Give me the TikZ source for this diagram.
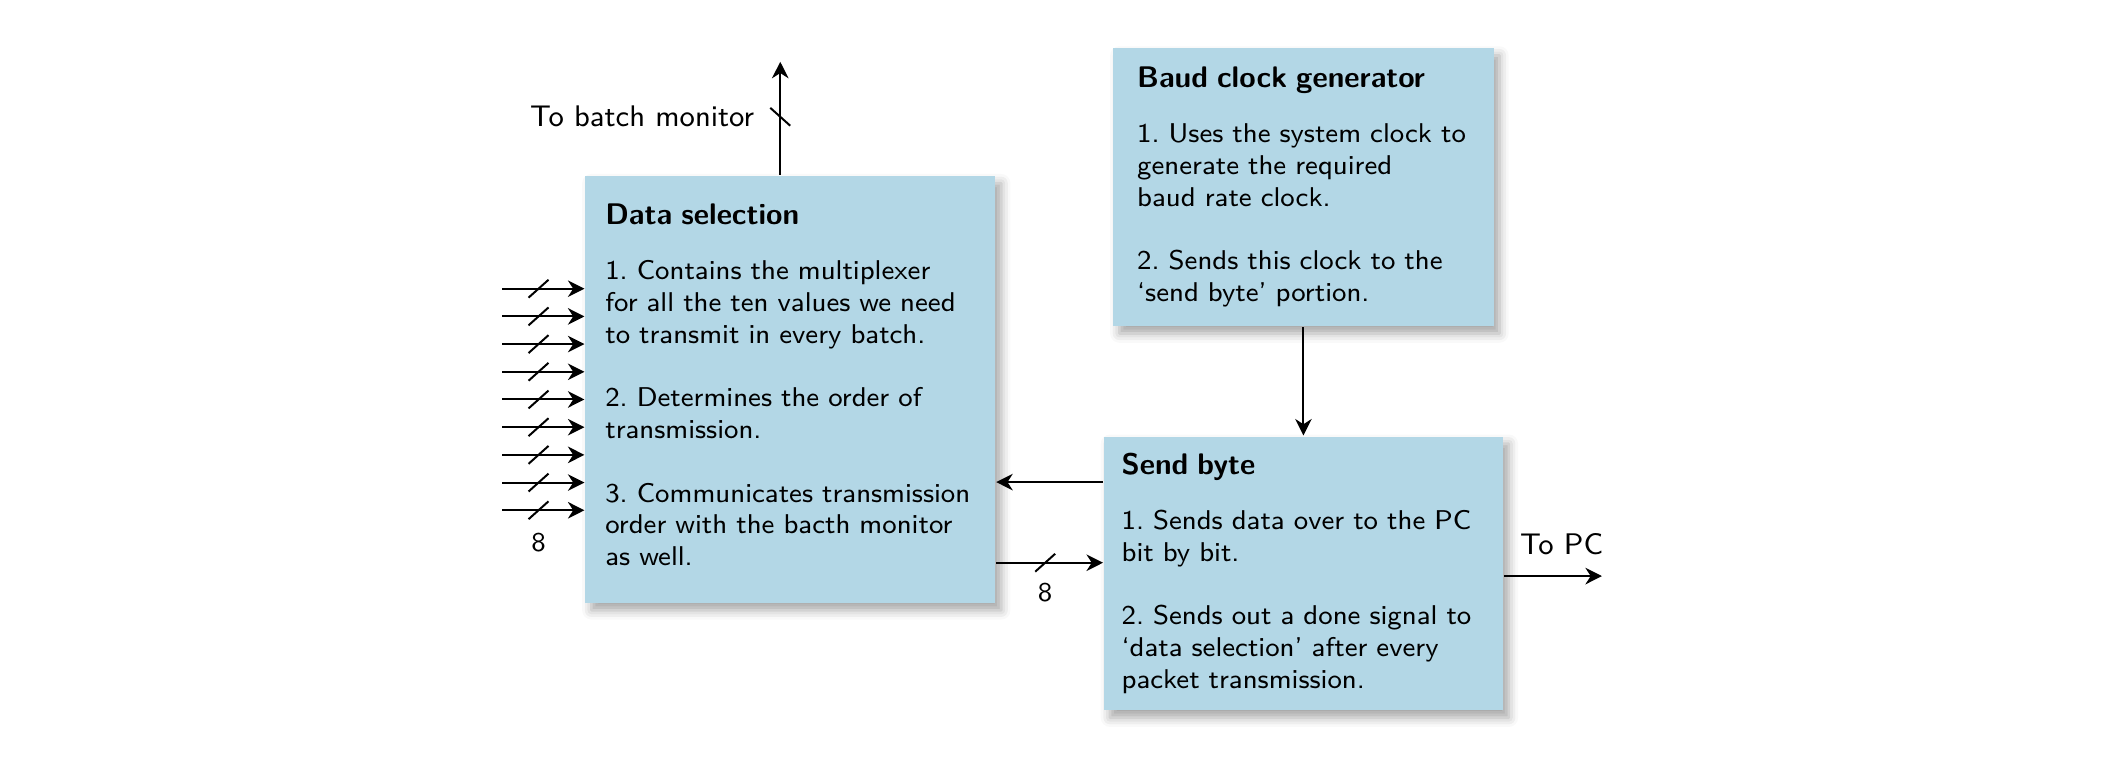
\documentclass[tikz,border=0pt]{standalone}
\usepackage{fix-cm}
\usepackage{tikz}
\usetikzlibrary{arrows.meta}
\usetikzlibrary{positioning}
\usetikzlibrary{shadows.blur}
\definecolor{blockblue}{RGB}{179,215,230}
\newcommand{\blocktitle}[1]{{\fontsize{9}{11}\selectfont\bfseries #1}}

\begin{document}
\begin{tikzpicture}[
    font=\fontsize{8.2}{9.6}\selectfont\sffamily\frenchspacing,
    line width=0.6pt,
    >={Stealth[length=5pt,width=5pt,inset=1.6pt]},
    block/.style={fill=blockblue, align=left,
        blur shadow={shadow xshift=1.8pt, shadow yshift=-2.2pt,
          shadow blur radius=2.8pt, shadow opacity=35}},
    portlabel/.style={font=\fontsize{9}{11}\selectfont\sffamily},
  ]
  \useasboundingbox (0,0) rectangle (22.357,8.047);

  \node (data) [block, inner xsep=6pt, text width=3.928cm, minimum width=4.350cm,
    minimum height=4.534cm] at (8.390,3.912) {%
    \blocktitle{Data selection}\\[7pt]
    1. Contains the multiplexer\\
    for all the ten values we need\\
    to transmit in every batch.\\[9.6pt]
    2. Determines the order of\\
    transmission.\\[9.6pt]
    3. Communicates transmission\\
    order with the bacth monitor\\
    as well.\strut};
  \node (baud) [block, inner xsep=7.2pt, text width=3.529cm, minimum width=4.035cm,
    minimum height=2.951cm] at (13.837,6.059) {%
    \blocktitle{Baud clock generator}\\[7pt]
    1. Uses the system clock to\\
    generate the required\\
    baud rate clock.\\[9.6pt]
    2. Sends this clock to the\\
    `send byte' portion.};
  \node (send) [block, inner xsep=5.3pt, text width=3.861cm, minimum width=4.234cm,
    minimum height=2.908cm] at (13.837,1.959) {%
    \blocktitle{Send byte}\\[7pt]
    1. Sends data over to the PC\\
    bit by bit.\\[9.6pt]
    2. Sends out a done signal to\\
    `data selection' after every\\
    packet transmission.};

  % ten inputs, 8 bit each
  \foreach \i in {0,...,8} {
    \coordinate (in\i) at (5.332,{4.982-0.294*\i});
    \draw[->] (in\i) -- (in\i -| data.west);
    \draw ([xshift=0.385cm]in\i) +(-0.106,-0.095) -- +(0.106,0.095);
  }
  \node (in-width) at ([xshift=0.385cm,yshift=-0.343cm]in8) {8};

  \coordinate (monitor) at (8.283,7.391);
  \coordinate (monitorbus) at (8.283,6.807);
  \draw[->] (data.north -| monitor) -- (monitor);
  \draw (monitorbus) +(-0.106,0.095) -- +(0.106,-0.095);
  \node (monitor-label) [portlabel, left=0.15cm of monitorbus] {To batch monitor};

  \draw[->] (baud.south) -- (baud.south |- send.north);

  \coordinate (donein) at ([yshift=0.970cm]send.west);
  \draw[->] (donein) -- (donein -| data.east);

  \coordinate (byteout) at ([yshift=0.114cm]send.west);
  \draw[->] (byteout -| data.east) -- (byteout);
  \draw ([xshift=-0.614cm]byteout) +(-0.106,-0.095) -- +(0.106,0.095);
  \node (byte-width) at ([xshift=-0.614cm,yshift=-0.314cm]byteout) {8};

  \coordinate (pc) at (17.006,1.931);
  \draw[->] (send.east |- pc) -- (pc);
  \node (pc-label) [portlabel, above left=0.1cm and -0.14cm of pc] {To PC};
\end{tikzpicture}
\end{document}
